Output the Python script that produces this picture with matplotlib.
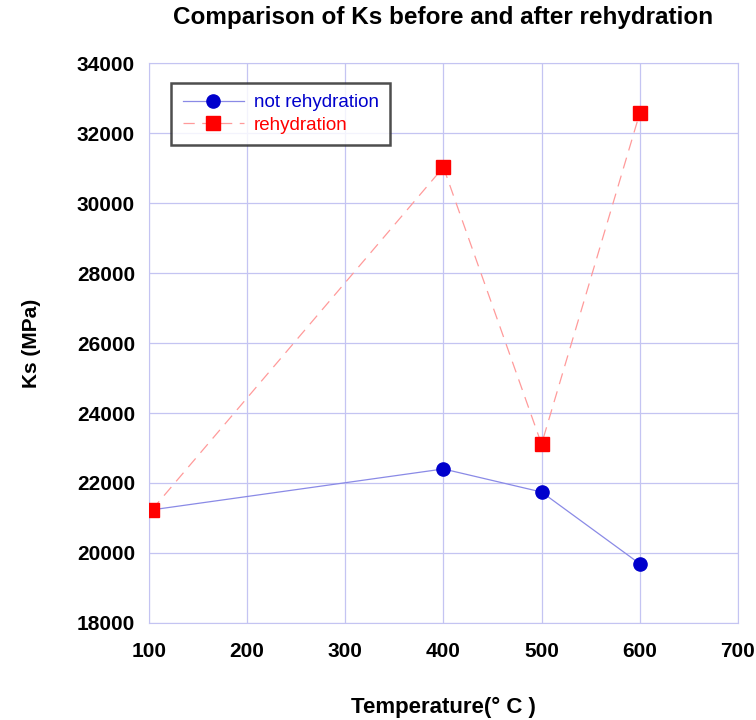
import matplotlib.pyplot as plt

# data
temp_not = [103, 400, 500, 600]
ks_not = [21230, 22400, 21740, 19690]

temp_re = [103, 400, 500, 600]
ks_re = [21230, 31030, 23110, 32570]

x_ticks = [100, 200, 300, 400, 500, 600, 700]
y_ticks = [18000, 20000, 22000, 24000, 26000, 28000, 30000, 32000, 34000]

plt.rcParams['font.family'] = ['Liberation Sans', 'DejaVu Sans']

fig = plt.figure(figsize=(7.56, 7.2), dpi=100)
ax = fig.add_axes([0.197, 0.135, 0.779, 0.777])

grid_col = '#c4c4f2'

ax.plot(temp_not, ks_not, color='#8a8ae6', linewidth=0.9,
        marker='o', markersize=9.5, markerfacecolor='#0000cc', markeredgecolor='#0000cc',
        label='not rehydration', zorder=3)
ax.plot(temp_re, ks_re, color='#ff9a9a', linewidth=0.9, linestyle=(0, (9, 6)),
        marker='s', markersize=10, markerfacecolor='#ff0000', markeredgecolor='#ff0000',
        label='rehydration', zorder=4)

ax.set_xlim(100, 700)
ax.set_ylim(18000, 34000)
ax.set_xticks(x_ticks)
ax.set_yticks(y_ticks)
ax.grid(True, color=grid_col, linewidth=0.9)
ax.set_axisbelow(True)
for s in ax.spines.values():
    s.set_color(grid_col)
ax.tick_params(length=0, labelsize=15)
ax.tick_params(axis='x', pad=14)
ax.tick_params(axis='y', pad=10)
for lab in ax.get_xticklabels() + ax.get_yticklabels():
    lab.set_fontweight('bold')

ax.set_xlabel('Temperature(° C )', fontsize=16, fontweight='bold', labelpad=26)
ax.set_ylabel('Ks (MPa)', fontsize=15, fontweight='bold', labelpad=26)
ax.set_title('Comparison of Ks before and after rehydration', fontsize=17.5,
             fontweight='bold', pad=28)

leg = ax.legend(loc='upper left', bbox_to_anchor=(0.022, 0.982),
                frameon=True, fancybox=False, edgecolor='#222222', borderpad=0.6,
                handlelength=3.3, handletextpad=0.5, labelspacing=0.3,
                prop={'size': 13.5})
leg.get_frame().set_linewidth(1.8)
leg.get_texts()[0].set_color('#0000cc')
leg.get_texts()[1].set_color('#ff0000')

fig.savefig('out.png', dpi=100)
